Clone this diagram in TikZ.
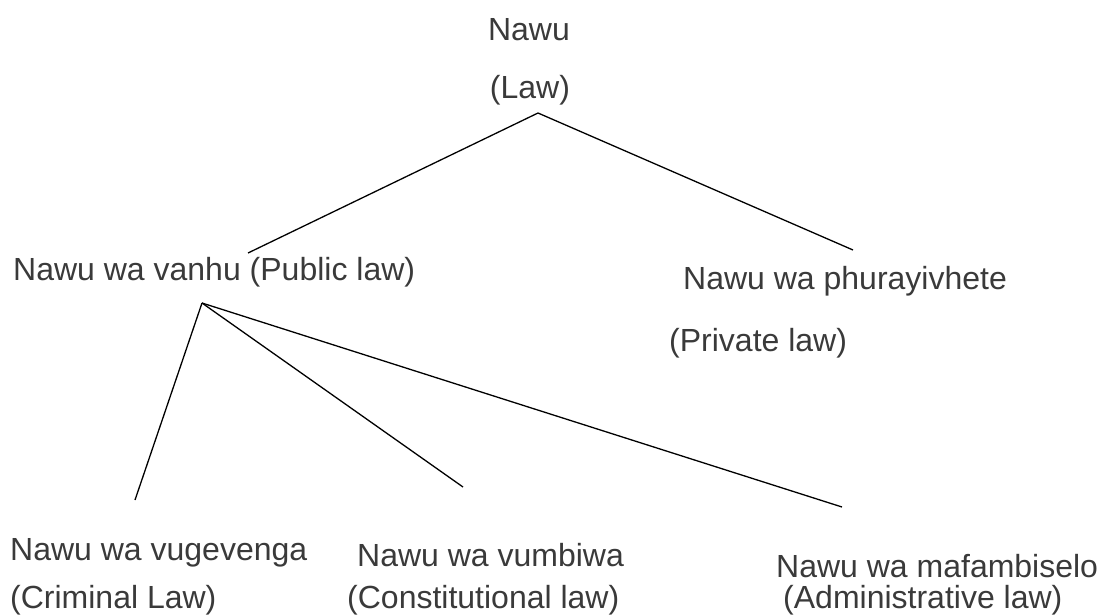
\documentclass[tikz,border=0pt]{standalone}
\usepackage{fontspec}
\setmainfont{Liberation Sans}
\definecolor{txt}{HTML}{3A3A3A}
\begin{document}
\begin{tikzpicture}[x=1pt,y=-1pt,
  lbl/.style={inner sep=0pt,text=txt,font=\fontsize{32}{38}\selectfont},
  edge/.style={draw=black,line width=1.3pt}]
\useasboundingbox (0,0) rectangle (1102,614);
% root
\node[lbl] (nawu) at (529,30) {Nawu};
\node[lbl] (law) at (530,90) {(Law)};
\coordinate (rootj) at (538,113);
% level 1
\node[lbl,anchor=west] (pub) at (13,272) {Nawu wa vanhu (Public law)};
\node[lbl,anchor=west] (priv) at (683,281) {Nawu wa phurayivhete};
\node[lbl,anchor=west] (priv2) at (669,343) {(Private law)};
\coordinate (pubtop) at (248,253);
\coordinate (privtop) at (853,250);
\coordinate (pubj) at (202,303);
% level 2
\node[lbl,anchor=west] (crim) at (10,553) {Nawu wa vugevenga};
\node[lbl,anchor=west] (crim2) at (10,600) {(Criminal Law)};
\node[lbl,anchor=west] (cons) at (357,555) {Nawu wa vumbiwa};
\node[lbl,anchor=west] (cons2) at (347,600) {(Constitutional law)};
\node[lbl,anchor=west] (adm) at (776,566) {Nawu wa mafambiselo};
\node[lbl,anchor=west] (adm2) at (783,600) {(Administrative law)};
\coordinate (crimtop) at (135,500);
\coordinate (constop) at (463,487);
\coordinate (admtop) at (842,507);
% connectors
\draw[edge] (pubtop) -- (rootj) -- (privtop);
\draw[edge] (pubj) -- (crimtop);
\draw[edge] (pubj) -- (constop);
\draw[edge] (pubj) -- (admtop);
\end{tikzpicture}
\end{document}
